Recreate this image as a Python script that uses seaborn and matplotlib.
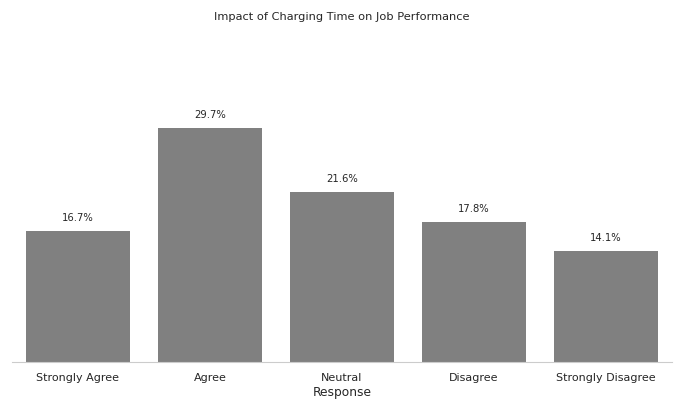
import matplotlib
matplotlib.use("Agg")
import matplotlib.pyplot as plt
import seaborn as sns
import pandas as pd

responses = ["Strongly Agree", "Agree", "Neutral", "Disagree", "Strongly Disagree"]
percentages = [16.7, 29.7, 21.6, 17.8, 14.1]

df = pd.DataFrame({"Response": responses, "Percentage": percentages})

sns.set_style("white")
fig = plt.figure(figsize=(6.84, 4.10), dpi=100)
ax = fig.add_axes([0.0175, 0.1146, 0.9645, 0.768])

sns.barplot(data=df, x="Response", y="Percentage", color="#808080",
            saturation=1, width=0.79, linewidth=0, ax=ax)

for i, v in enumerate(percentages):
    ax.annotate(f"{v}%", (i, v), xytext=(0, 6.5), textcoords="offset points",
                ha="center", va="bottom", fontsize=7.2, color="#262626")

ax.set_ylim(0, 40)
ax.set_xlim(-0.5, 4.5)
ax.set_yticks([])
ax.set_ylabel("")
ax.set_xlabel("Response", fontsize=8.8, color="#262626", labelpad=2.5)
ax.tick_params(axis="x", length=0, labelsize=8, pad=7, colors="#262626")
for side in ["left", "top", "right"]:
    ax.spines[side].set_visible(False)
ax.spines["bottom"].set_color("#cccccc")

fig.suptitle("Impact of Charging Time on Job Performance", fontsize=8.2,
             y=1 - 17 / 410, va="center", color="#262626")

fig.savefig("out.png", dpi=100)
